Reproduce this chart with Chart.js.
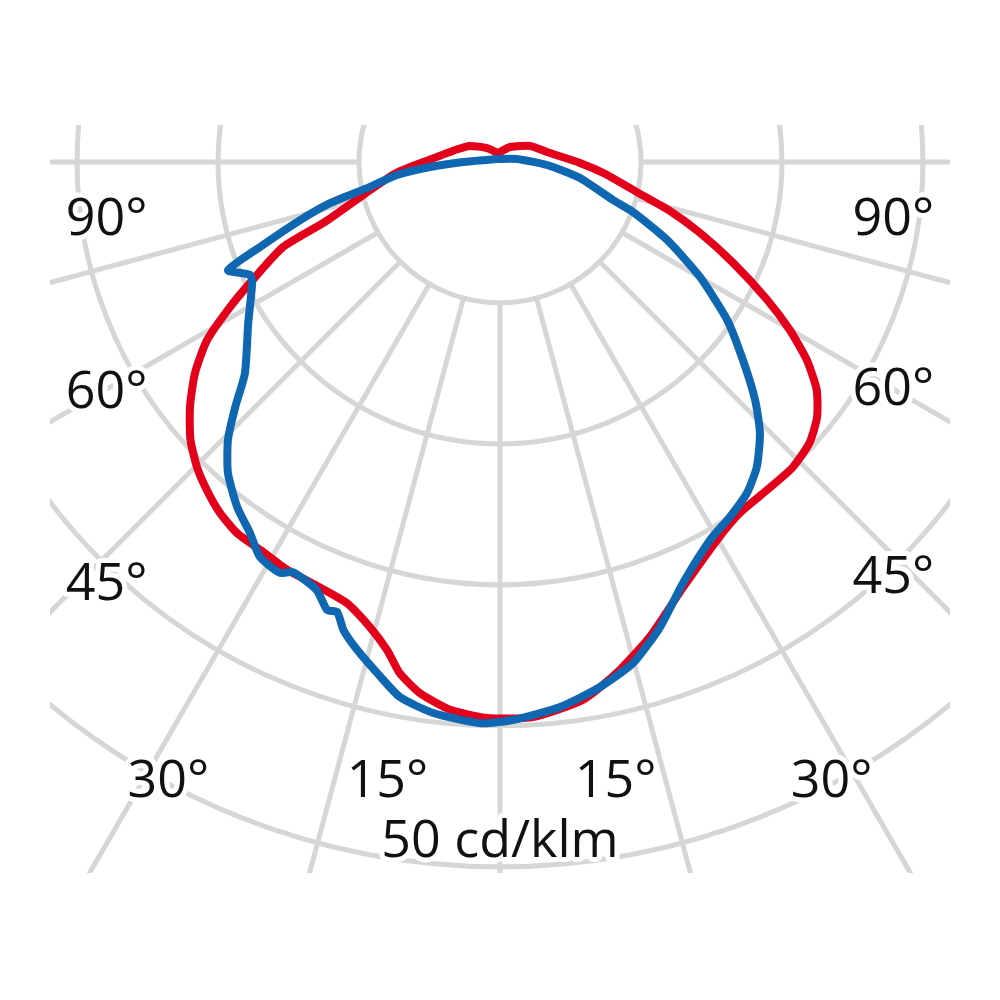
<!DOCTYPE html>
<html>
<head>
<meta charset="utf-8">
<script src="https://cdn.jsdelivr.net/npm/chart.js@4.4.1/dist/chart.umd.min.js"></script>
<style>
  html, body { margin: 0; padding: 0; background: #fff; }
  #wrap { width: 1000px; height: 1000px; position: relative; }
</style>
</head>
<body>
<div id="wrap"><canvas id="polar"></canvas></div>
<script>
// intensity curves, angle in degrees from straight down (left negative), value in cd/klm
const redAngles = [-167, -137, -118, -106, -92, -84, -76.7, -71.1, -68.6, -64.5, -61.8, -58.7, -55.3, -51.7, -48.1,
  -44.8, -41.8, -38.6, -35.3, -31.7, -27.6, -23.0, -19.1, -15.6, -13.0, -11.1, -8.6, -5.2, -1.3, 3.4,
  8.8, 12.9, 17.5, 23.3, 30.1, 34.4, 39.1, 43.8, 47.8, 51.2, 54.3, 57.2, 59.9, 62.7, 66.6,
  70.5, 74.1, 77.1, 83.5, 89.3, 102, 118, 146];
const redValues = [3.2, 6.7, 12.1, 16.0, 24.8, 36.9, 49.3, 65.6, 82.6, 97.2, 108.5, 121.6, 131.6, 140.1, 147.5,
  152.5, 156.0, 159.2, 161.3, 161.7, 163.1, 163.8, 165.6, 171.3, 177.7, 184.7, 190.4, 195.0, 197.2, 197.2,
  192.9, 185.8, 176.6, 164.2, 154.3, 150.7, 150.0, 150.0, 148.2, 144.3, 138.3, 129.4, 118.8, 106.7, 90.1,
  75.2, 62.1, 51.1, 37.6, 28.4, 17.0, 12.1, 6.4];

const blueAngles = [-135, -90, -85.9, -82.8, -78.7, -76.4, -73.8, -70.5, -68.3, -65.7, -64.0, -57.4, -50.4, -47.2, -44.4,
  -41.2, -37.3, -34.0, -31.3, -28.2, -26.8, -23.2, -21.1, -19.9, -18.5, -16.3, -13.5, -10.6, -6.9, -2.0,
  1.3, 6.3, 10.8, 14.9, 19.0, 23.5, 29.2, 32.9, 36.7, 40.1, 43.8, 47.0, 50.8, 55.2, 60.1,
  65.0, 69.4, 71.4, 78.7, 86.3, 100];
const blueValues = [1.5, 13.1, 24.9, 36.8, 48.8, 62.0, 73.8, 90.3, 103.8, 97.3, 97.8, 106.0, 117.4, 128.0, 137.9,
  146.5, 153.8, 158.6, 163.9, 165.3, 162.9, 165.1, 170.3, 169.7, 175.0, 180.3, 186.4, 193.0, 196.8, 199.1,
  197.9, 194.4, 189.5, 183.8, 174.4, 162.8, 153.2, 150.0, 146.5, 141.4, 133.2, 123.7, 111.2, 98.1, 81.8,
  65.4, 50.4, 42.3, 28.9, 16.7, 6.1];

// grid
const ringValues = [50, 100, 150, 200, 250];
const spokeAngles = [-90, -75, -60, -45, -30, -15, 0, 15, 30, 45, 60, 75, 90];

// text
const angleLabels = ['90°', '60°', '45°', '30°', '15°', '15°', '30°', '45°', '60°', '90°'];
const unitLabel = '50 cd/klm';

// where the texts sit (data units, alphabetic baseline)
const angleLabelPos = [
  [-139.5, -25.9], [-139.5, -87.2], [-139.5, -155.3], [-117.6, -225.2], [-39.9, -225.2],
  [41.0, -225.2], [117.6, -225.2], [139.5, -152.8], [139.5, -86.2], [139.5, -25.9]
];
const unitLabelPos = [0, -246.5];

function toXY(angles, values) {
  const pts = angles.map((a, i) => {
    const rad = a * Math.PI / 180;
    return { x: values[i] * Math.sin(rad), y: -values[i] * Math.cos(rad) };
  });
  pts.push(pts[0]); // close the curve
  return pts;
}

const polarGrid = {
  id: 'polarGrid',
  beforeDatasetsDraw(chart) {
    const { ctx, chartArea, scales: { x, y } } = chart;
    const cx = x.getPixelForValue(0);
    const cy = y.getPixelForValue(0);
    const ringPx = v => x.getPixelForValue(v) - cx;

    ctx.save();
    ctx.beginPath();
    ctx.rect(chartArea.left, chartArea.top, chartArea.width, chartArea.height);
    ctx.clip();

    ctx.strokeStyle = '#d6d6d6';
    ctx.lineWidth = 5;
    ringValues.forEach(r => {
      ctx.beginPath();
      ctx.arc(cx, cy, ringPx(r), 0, Math.PI * 2);
      ctx.stroke();
    });

    const r0 = ringValues[0];
    const r1 = 400;
    spokeAngles.forEach(a => {
      const rad = a * Math.PI / 180;
      ctx.beginPath();
      ctx.moveTo(x.getPixelForValue(r0 * Math.sin(rad)), y.getPixelForValue(-r0 * Math.cos(rad)));
      ctx.lineTo(x.getPixelForValue(r1 * Math.sin(rad)), y.getPixelForValue(-r1 * Math.cos(rad)));
      ctx.stroke();
    });

    ctx.font = '52px "Open Sans"';
    ctx.textAlign = 'center';
    ctx.textBaseline = 'alphabetic';
    ctx.lineJoin = 'round';
    const drawText = (txt, p) => {
      const px = x.getPixelForValue(p[0]);
      const py = y.getPixelForValue(p[1]);
      ctx.strokeStyle = '#ffffff';
      ctx.lineWidth = 10;
      ctx.strokeText(txt, px, py);
      ctx.fillStyle = '#111111';
      ctx.fillText(txt, px, py);
    };
    angleLabels.forEach((t, i) => drawText(t, angleLabelPos[i]));
    drawText(unitLabel, unitLabelPos);

    ctx.restore();
  }
};

const ctx = document.querySelector('#polar').getContext('2d');

const lineStyle = {
  showLine: true,
  borderWidth: 8,
  pointRadius: 0,
  pointHoverRadius: 0,
  tension: 0.2,
  borderJoinStyle: 'round',
  borderCapStyle: 'round',
  fill: false
};

const data = {
  datasets: [
    Object.assign({ label: 'blue', data: toXY(blueAngles, blueValues), borderColor: '#0f67b1' }, lineStyle),
    Object.assign({ label: 'red', data: toXY(redAngles, redValues), borderColor: '#e2001a' }, lineStyle)
  ]
};

const config = {
  type: 'scatter',
  data: data,
  options: {
    responsive: true,
    maintainAspectRatio: false,
    animation: false,
    layout: { padding: { left: 50, right: 50, top: 125, bottom: 127 } },
    scales: {
      x: { type: 'linear', min: -159.6, max: 159.6, display: false },
      y: { type: 'linear', min: -252.1, max: 13.1, display: false }
    },
    plugins: {
      legend: { display: false },
      tooltip: { enabled: false }
    }
  },
  plugins: [polarGrid]
};

const polarChart = new Chart(ctx, config);
</script>
</body>
</html>
